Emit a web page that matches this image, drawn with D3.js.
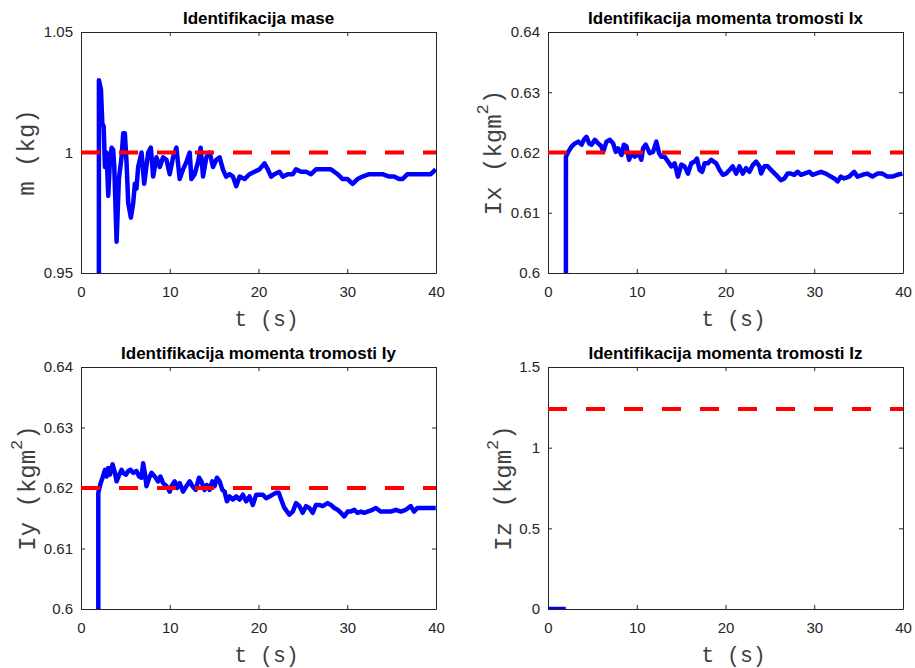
<!DOCTYPE html>
<html><head><meta charset="utf-8">
<script src="https://cdn.jsdelivr.net/npm/d3@7"></script>
<style>body{margin:0;background:#fff}svg text{white-space:pre}</style>
</head><body>
<svg id="c" width="915" height="668"></svg>
<script>
// ---------- data ----------
const xTicks = [0, 10, 20, 30, 40];
const xTickLabels = ["0", "10", "20", "30", "40"];

const massTicks = [0.95, 1, 1.05];
const massTickLabels = ["0.95", "1", "1.05"];
const ixTicks = [0.6, 0.61, 0.62, 0.63, 0.64];
const ixTickLabels = ["0.6", "0.61", "0.62", "0.63", "0.64"];
const iyTicks = [0.6, 0.61, 0.62, 0.63, 0.64];
const iyTickLabels = ["0.6", "0.61", "0.62", "0.63", "0.64"];
const izTicks = [0, 0.5, 1, 1.5];
const izTickLabels = ["0", "0.5", "1", "1.5"];

const massRef = 1.0, ixRef = 0.62, iyRef = 0.62, izRef = 1.24;

const massT = [0,1.95,2.02,2.25,2.40,2.55,2.70,2.88,3.07,3.25,3.45,3.63,3.75,4.01,4.27,4.57,4.76,4.94,5.13,5.32,5.62,5.88,6.07,6.25,6.44,6.82,7.12,7.57,7.87,8.13,8.50,8.88,9.25,9.63,10.0,10.37,10.75,11.12,11.5,11.87,12.25,12.44,12.81,13.18,13.48,13.75,14.12,14.5,14.87,15.24,15.62,15.99,16.35,16.74,17.12,17.49,17.87,18.43,18.99,19.55,20.11,20.67,21.05,21.42,21.8,22.36,22.73,23.3,23.86,24.23,24.79,25.36,25.92,26.48,27.04,27.6,28.16,28.54,28.91,29.48,30.04,30.6,31.16,31.72,32.47,33.22,33.97,34.72,35.28,35.84,36.22,36.78,37.53,38.28,38.84,39.4,39.97];
const massV = [0,0,1.030,1.026,1.012,1.011,0.994,1.000,0.982,0.996,1.002,1.001,0.994,0.963,0.989,0.998,1.008,1.008,0.996,0.979,0.973,0.979,0.987,0.985,0.994,1.000,0.987,1.000,1.002,0.990,0.998,0.994,0.998,0.997,0.991,0.998,1.002,0.989,0.993,0.996,1.000,0.989,0.991,0.996,1.002,0.990,0.998,1.000,0.994,0.997,0.998,0.993,0.990,0.991,0.990,0.986,0.990,0.989,0.991,0.992,0.993,0.9955,0.993,0.990,0.991,0.992,0.990,0.991,0.991,0.993,0.992,0.992,0.991,0.993,0.993,0.993,0.993,0.992,0.991,0.989,0.989,0.987,0.989,0.990,0.991,0.991,0.991,0.990,0.990,0.989,0.989,0.991,0.991,0.991,0.991,0.991,0.993];

const ixT = [0,1.98,2.02,2.28,2.66,3.03,3.41,3.78,4.04,4.34,4.64,4.91,5.28,5.66,6.03,6.22,6.59,6.97,7.34,7.64,7.90,8.28,8.54,8.84,9.14,9.40,9.78,10.15,10.52,10.71,11.01,11.46,11.84,12.21,12.51,12.77,13.15,13.52,13.9,14.27,14.64,15.02,15.39,15.77,16.14,16.52,16.78,17.08,17.38,17.64,18.01,18.39,18.95,19.33,19.7,20.07,20.45,20.82,21.2,21.57,21.94,22.32,22.7,23.07,23.45,23.82,24.01,24.38,24.76,25.13,25.69,26.25,26.63,27.0,27.38,27.75,28.13,28.5,28.88,29.44,29.81,30.19,30.75,31.31,31.87,32.25,32.62,33.0,33.37,33.93,34.49,34.87,35.43,35.99,36.55,37.12,37.68,38.24,38.8,39.36,39.93];
const ixV = [0,0,0.6193,0.6201,0.6210,0.6215,0.6218,0.6213,0.6221,0.6226,0.6215,0.6213,0.6221,0.6215,0.6210,0.6201,0.6218,0.6221,0.6215,0.6201,0.6207,0.6196,0.6213,0.6210,0.6188,0.6199,0.6193,0.6199,0.6188,0.6207,0.6213,0.6199,0.6201,0.6218,0.6199,0.6193,0.6193,0.6185,0.6177,0.6182,0.6160,0.6180,0.6177,0.6165,0.6182,0.6185,0.6190,0.6171,0.6168,0.6182,0.6182,0.6188,0.6182,0.6171,0.6163,0.6165,0.6171,0.6177,0.6165,0.6177,0.6165,0.6174,0.6168,0.6179,0.6185,0.6177,0.6165,0.6177,0.6177,0.6171,0.6163,0.6154,0.6157,0.6165,0.6165,0.6163,0.6168,0.6163,0.6165,0.6168,0.6163,0.6165,0.6168,0.6165,0.6160,0.6157,0.6152,0.6160,0.6157,0.6160,0.6168,0.6160,0.6163,0.6165,0.6160,0.6165,0.6165,0.6160,0.6160,0.6163,0.6165];

const iyT = [0,1.93,1.95,2.21,2.43,2.70,2.88,3.07,3.26,3.56,3.82,4.01,4.31,4.57,4.76,5.06,5.32,5.58,5.88,6.25,6.55,6.82,7.0,7.19,7.38,7.68,7.94,8.31,8.69,8.95,9.25,9.63,10.0,10.19,10.56,10.82,11.12,11.5,11.87,12.25,12.55,12.92,13.3,13.56,13.93,14.19,14.49,14.79,15.06,15.32,15.62,15.92,16.18,16.44,16.74,17.12,17.49,17.87,18.24,18.61,18.99,19.36,19.74,20.11,20.49,20.86,21.24,21.61,21.99,22.28,22.55,22.92,23.48,23.86,24.23,24.61,24.98,25.36,25.73,26.1,26.48,26.85,27.23,27.79,28.16,28.54,28.91,29.29,29.66,30.04,30.41,30.79,31.16,31.54,31.91,32.28,32.85,33.22,33.78,34.34,34.91,35.47,36.03,36.59,37.15,37.53,37.9,38.46,39.03,39.59,39.97];
const iyV = [0,0,0.6192,0.6208,0.6217,0.6230,0.6219,0.6233,0.6222,0.6239,0.6225,0.6211,0.6222,0.6230,0.6225,0.6222,0.6228,0.6230,0.6225,0.6228,0.6219,0.6217,0.6241,0.6225,0.6203,0.6217,0.6225,0.6219,0.6211,0.6219,0.6208,0.6203,0.6194,0.6203,0.6211,0.6200,0.6208,0.6194,0.6203,0.6211,0.6203,0.6197,0.6217,0.6211,0.6197,0.6205,0.6197,0.6211,0.6203,0.6217,0.6211,0.6197,0.6194,0.6178,0.6186,0.6181,0.6186,0.6181,0.6189,0.6178,0.6186,0.6172,0.6189,0.6189,0.6189,0.6183,0.6186,0.6189,0.6192,0.6192,0.6181,0.6167,0.6156,0.6161,0.6175,0.6170,0.6159,0.6170,0.6167,0.6159,0.6172,0.6172,0.6170,0.6175,0.6172,0.6167,0.6164,0.6159,0.6153,0.6161,0.6161,0.6164,0.6159,0.6161,0.6159,0.6161,0.6164,0.6167,0.6161,0.6161,0.6161,0.6164,0.6161,0.6164,0.6170,0.6161,0.6167,0.6167,0.6167,0.6167,0.6167];

const izT = [0, 2];
const izV = [0, 0];

// ---------- layout ----------
const panels = [
  {title:"Identifikacija mase", x0:81, y0:32, x1:436, y1:273, yDom:[0.95,1.05], yt:massTicks, ytl:massTickLabels, ref:massRef, t:massT, v:massV, lab:"m (kg)", sup:false, labX:27},
  {title:"Identifikacija momenta tromosti Ix", x0:548, y0:32, x1:903, y1:273, yDom:[0.6,0.64], yt:ixTicks, ytl:ixTickLabels, ref:ixRef, t:ixT, v:ixV, lab:"Ix (kgm", sup:true, labX:494},
  {title:"Identifikacija momenta tromosti Iy", x0:81, y0:367, x1:436, y1:609, yDom:[0.6,0.64], yt:iyTicks, ytl:iyTickLabels, ref:iyRef, t:iyT, v:iyV, lab:"Iy (kgm", sup:true, labX:28},
  {title:"Identifikacija momenta tromosti Iz", x0:548, y0:367, x1:903, y1:609, yDom:[0,1.5], yt:izTicks, ytl:izTickLabels, ref:izRef, t:izT, v:izV, lab:"Iz (kgm", sup:true, labX:504}
];

const svg = d3.select("#c");
const axisCol = "#262626";
const tickFont = "Liberation Sans, Arial, sans-serif";
const monoFont = "Liberation Mono, Courier New, monospace";

panels.forEach((p, i) => {
  const x = d3.scaleLinear().domain([0, 40]).range([p.x0, p.x1]);
  const y = d3.scaleLinear().domain(p.yDom).range([p.y1, p.y0]);
  const g = svg.append("g");

  const clipId = "clip" + i;
  svg.append("clipPath").attr("id", clipId).append("rect")
    .attr("x", p.x0).attr("y", p.y0).attr("width", p.x1 - p.x0).attr("height", p.y1 - p.y0);

  const styleAxis = (sel, showLabels) => {
    sel.select(".domain").attr("stroke", axisCol).attr("stroke-width", 1);
    sel.selectAll(".tick line").attr("stroke", axisCol).attr("stroke-width", 1);
    sel.selectAll("text").attr("fill", axisCol).attr("font-family", tickFont).attr("font-size", 15);
    if (!showLabels) sel.selectAll("text").remove();
  };
  g.append("g").attr("transform", `translate(0,${p.y1})`)
    .call(d3.axisBottom(x).tickValues(xTicks).tickFormat((d, k) => xTickLabels[k]).tickSizeInner(-4).tickSizeOuter(0).tickPadding(13))
    .call(s => styleAxis(s, true));
  g.append("g").attr("transform", `translate(0,${p.y0})`)
    .call(d3.axisTop(x).tickValues(xTicks).tickSizeInner(-4).tickSizeOuter(0))
    .call(s => styleAxis(s, false));
  g.append("g").attr("transform", `translate(${p.x0},0)`)
    .call(d3.axisLeft(y).tickValues(p.yt).tickFormat((d, k) => p.ytl[k]).tickSizeInner(-4).tickSizeOuter(0).tickPadding(8))
    .call(s => styleAxis(s, true));
  g.append("g").attr("transform", `translate(${p.x1},0)`)
    .call(d3.axisRight(y).tickValues(p.yt).tickSizeInner(-4).tickSizeOuter(0))
    .call(s => styleAxis(s, false));

  const pts = p.t.map((t, k) => [t, p.v[k]]);
  const line = d3.line().x(d => x(d[0])).y(d => y(d[1]));
  g.append("path").datum(pts).attr("clip-path", `url(#${clipId})`)
    .attr("d", line).attr("fill", "none").attr("stroke", "#0000ff")
    .attr("stroke-width", 4.5).attr("stroke-linejoin", "round");

  g.append("path").datum([[0, p.ref], [40, p.ref]]).attr("clip-path", `url(#${clipId})`)
    .attr("d", line).attr("fill", "none").attr("stroke", "#ff0000")
    .attr("stroke-width", 4).attr("stroke-dasharray", "19,19");

  g.append("text").attr("x", (p.x0 + p.x1) / 2).attr("y", p.y0 - 14)
    .attr("text-anchor", "middle").attr("dominant-baseline", "central")
    .attr("font-family", tickFont).attr("font-weight", "bold").attr("font-size", 17)
    .attr("fill", "#000").text(p.title);

  g.append("text").attr("x", (p.x0 + p.x1) / 2 + 8).attr("y", p.y1 + 47)
    .attr("text-anchor", "middle").attr("dominant-baseline", "central")
    .attr("font-family", monoFont).attr("font-size", 21.5).attr("fill", "#404040")
    .text("t (s)");

  const yl = g.append("text")
    .attr("transform", `translate(${p.labX},${(p.y0 + p.y1) / 2}) rotate(-90)`)
    .attr("text-anchor", "middle").attr("dominant-baseline", "central")
    .attr("font-family", monoFont).attr("font-size", 24).attr("fill", "#404040");
  yl.append("tspan").text(p.lab);
  if (p.sup) {
    yl.append("tspan").attr("font-size", 17).attr("dy", -11).text("2");
    yl.append("tspan").attr("dy", 11).text(")");
  }
});
</script>
</body></html>
